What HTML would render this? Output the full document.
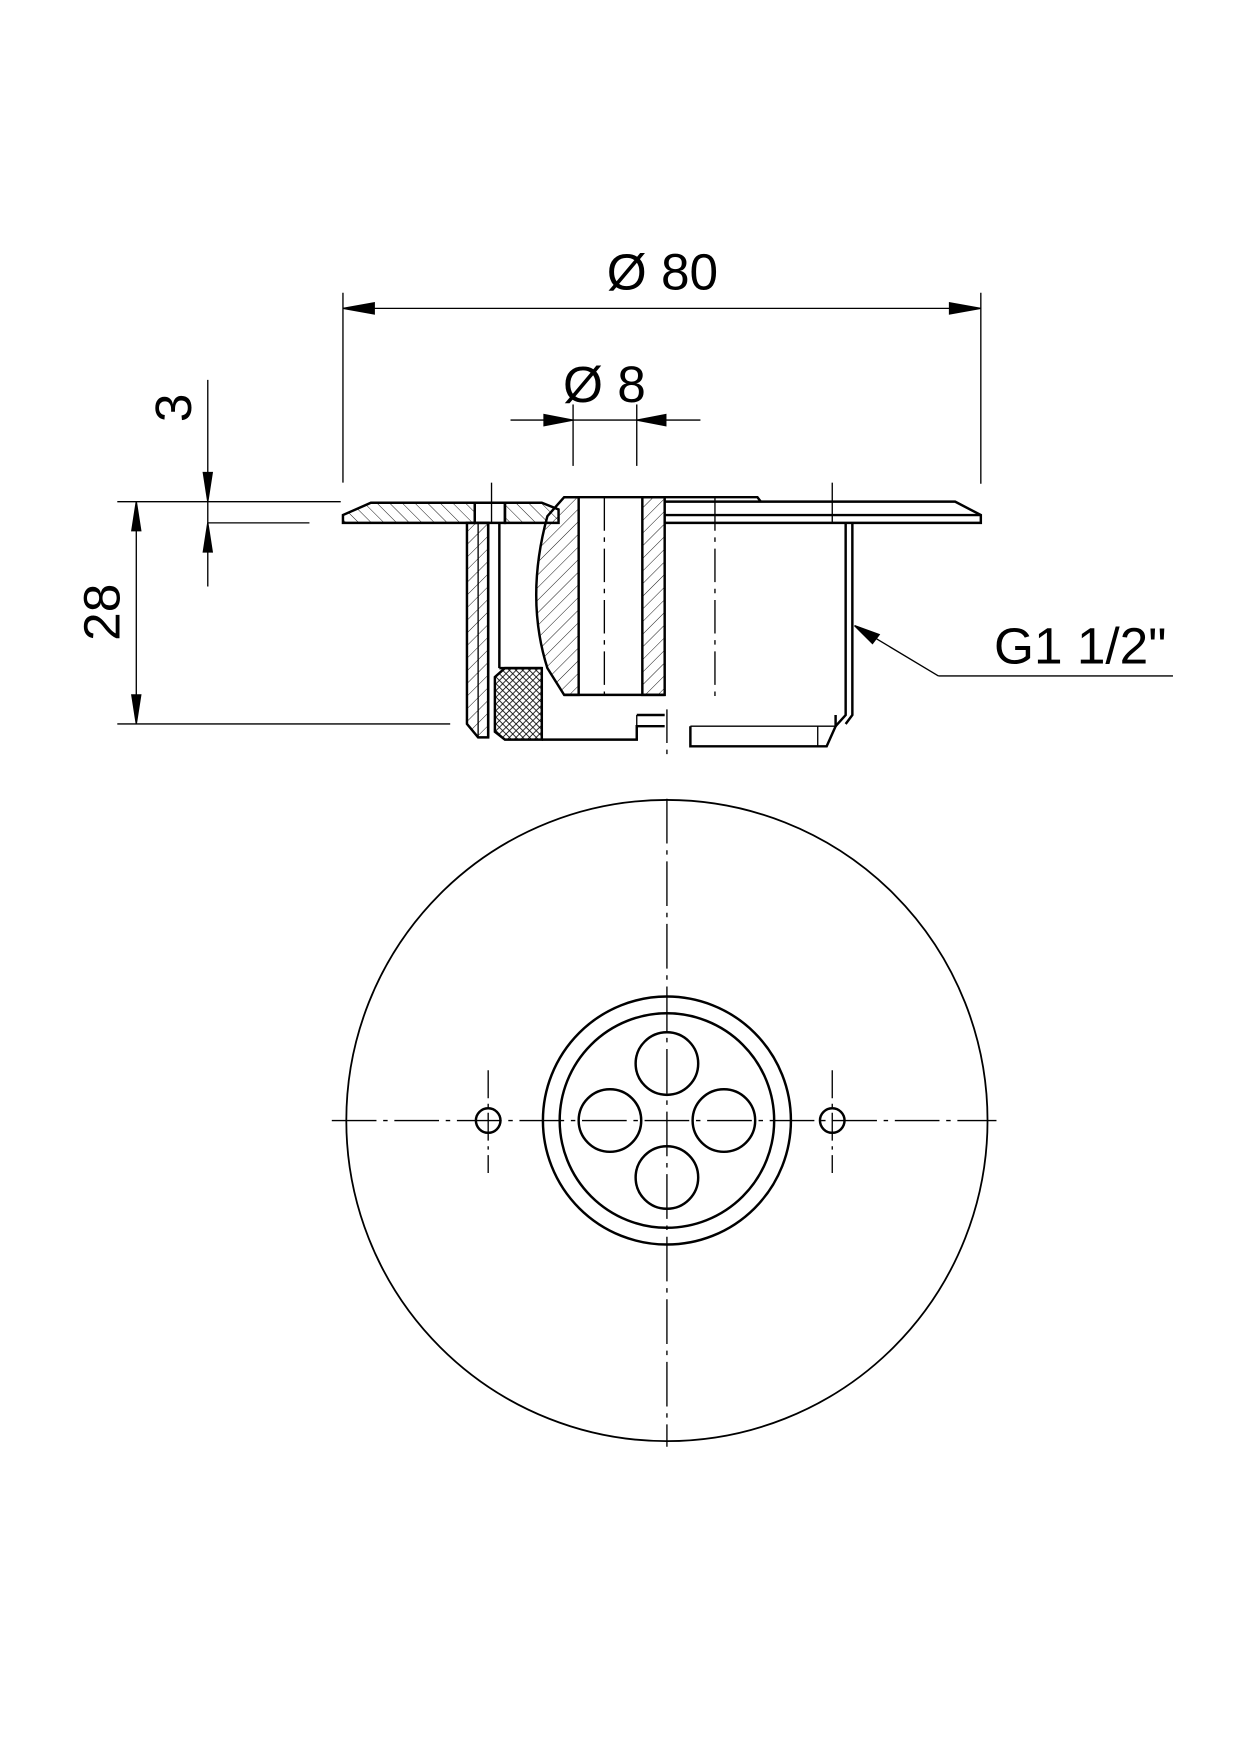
<!DOCTYPE html>
<html><head><meta charset="utf-8"><style>html,body{margin:0;padding:0;background:#fff}svg{display:block}</style></head><body>
<svg width="1240" height="1754" viewBox="0 0 1110 1570" xmlns="http://www.w3.org/2000/svg" font-family="Liberation Sans Narrow, Liberation Sans, sans-serif">
<defs>
<pattern id="h1" patternUnits="userSpaceOnUse" width="8" height="8" patternTransform="rotate(45)"><line x1="0" y1="0" x2="0" y2="8" stroke="#000" stroke-width="0.8"/></pattern>
<pattern id="h2" patternUnits="userSpaceOnUse" width="8" height="8" patternTransform="rotate(-45)"><line x1="0" y1="0" x2="0" y2="8" stroke="#000" stroke-width="0.8"/></pattern>
<pattern id="hx" patternUnits="userSpaceOnUse" width="6" height="6"><path d="M0 0L6 6M6 0L0 6" stroke="#000" stroke-width="0.7"/></pattern>
</defs>
<g stroke="#000" fill="none" stroke-width="1.2">
<line x1="307" y1="262" x2="307" y2="432"/><line x1="878" y1="262" x2="878" y2="433"/>
<line x1="307" y1="276" x2="878" y2="276"/>
<path d="M307 276l28-5v10z M878 276l-28-5v10z" fill="#000"/>
<line x1="513" y1="362" x2="513" y2="417"/><line x1="570" y1="362" x2="570" y2="417"/>
<line x1="457" y1="376" x2="627" y2="376"/>
<path d="M513 376l-26-5v10z M570 376l26-5v10z" fill="#000"/>
<line x1="186" y1="340" x2="186" y2="525"/>
<line x1="186" y1="468" x2="277" y2="468"/>
<path d="M186 449l-4-26h8z M186 468l-4 26h8z" fill="#000"/>
<line x1="105" y1="449" x2="305" y2="449"/><line x1="105" y1="648" x2="403" y2="648"/>
<line x1="122" y1="449" x2="122" y2="648"/>
<path d="M122 449l-4 26h8z M122 648l-4-26h8z" fill="#000"/>
<path d="M307 468V461L332 450H425V468Z" fill="url(#h2)" stroke-width="2.2"/>
<path d="M452 450H485L500 456V468H452Z" fill="url(#h2)" stroke-width="2.2"/>
<path d="M425 450H452V468H425Z" stroke-width="2.2"/>
<line x1="440" y1="432" x2="440" y2="468"/>
<path d="M595 449H855L878 461V468H595" stroke-width="2.2"/>
<line x1="595" y1="461" x2="878" y2="461" stroke-width="2.2"/>
<path d="M505 445H678L681 449" stroke-width="2.2"/>
<line x1="745" y1="432" x2="745" y2="468"/>
<path d="M418 468H437V660H428L418 648Z" fill="url(#h1)" stroke-width="2.2"/>
<line x1="428" y1="468" x2="428" y2="660"/>
<line x1="437" y1="468" x2="437" y2="660" stroke-width="2.2"/>
<line x1="447" y1="468" x2="447" y2="598" stroke-width="2.2"/>
<line x1="447" y1="598" x2="485" y2="598" stroke-width="2.2"/>
<path d="M443 606L452 598H485V662H452L443 655Z" fill="url(#hx)" stroke-width="2.2"/>
<path d="M505 445L490 462Q470 535 490 598L505 622H518V445Z" fill="url(#h1)" stroke-width="2.2"/>
<path d="M575 445H595V622H575Z" fill="url(#h1)" stroke-width="2.2"/>
<line x1="505" y1="622" x2="595" y2="622" stroke-width="2.2"/>
<line x1="541" y1="445" x2="541" y2="622" stroke-dasharray="30,6,4,6"/>
<line x1="640" y1="445" x2="640" y2="625" stroke-dasharray="30,6,4,6"/>
<path d="M485 662H570V650H595" stroke-width="2.2"/>
<line x1="570" y1="650" x2="570" y2="640"/>
<line x1="570" y1="640" x2="595" y2="640" stroke-width="2.2"/>
<path d="M618 650V668H740L748 650V640" stroke-width="2.2"/>
<line x1="732" y1="650" x2="732" y2="668"/>
<line x1="618" y1="650" x2="748" y2="650"/>
<path d="M757 468V640L748 650 M763 468V640L757 648" stroke-width="2.2"/>
<line x1="597" y1="635" x2="597" y2="680" stroke-dasharray="30,6,4,6"/>
<line x1="765" y1="560" x2="840" y2="605"/><line x1="840" y1="605" x2="1050" y2="605"/>
<path d="M765 560l22 8-6 8z" fill="#000"/>
<circle cx="597" cy="1003" r="287" stroke-width="1.6"/>
<line x1="297" y1="1003" x2="892" y2="1003" stroke-dasharray="40,6,4,6"/>
<line x1="597" y1="715" x2="597" y2="1295" stroke-dasharray="40,6,4,6"/>
<circle cx="597" cy="1003" r="111" stroke-width="2.2"/>
<circle cx="597" cy="1003" r="96" stroke-width="2.2"/>
<circle cx="597" cy="952" r="28" stroke-width="2.2"/>
<circle cx="648" cy="1003" r="28" stroke-width="2.2"/>
<circle cx="597" cy="1054" r="28" stroke-width="2.2"/>
<circle cx="546" cy="1003" r="28" stroke-width="2.2"/>
<circle cx="437" cy="1003" r="11" stroke-width="2.2"/>
<circle cx="745" cy="1003" r="11" stroke-width="2.2"/>
<line x1="437" y1="958" x2="437" y2="1050" stroke-dasharray="25,5,3,5"/>
<line x1="745" y1="958" x2="745" y2="1050" stroke-dasharray="25,5,3,5"/>
</g>
<g fill="#000" font-size="46">
<text x="593" y="259" text-anchor="middle">Ø 80</text>
<text x="541" y="360" text-anchor="middle">Ø 8</text>
<text x="967" y="594" text-anchor="middle">G1 1/2"</text>
<text transform="translate(171,365) rotate(-90)" text-anchor="middle">3</text>
<text transform="translate(107,548) rotate(-90)" text-anchor="middle">28</text>
</g>
</svg>
</body></html>
